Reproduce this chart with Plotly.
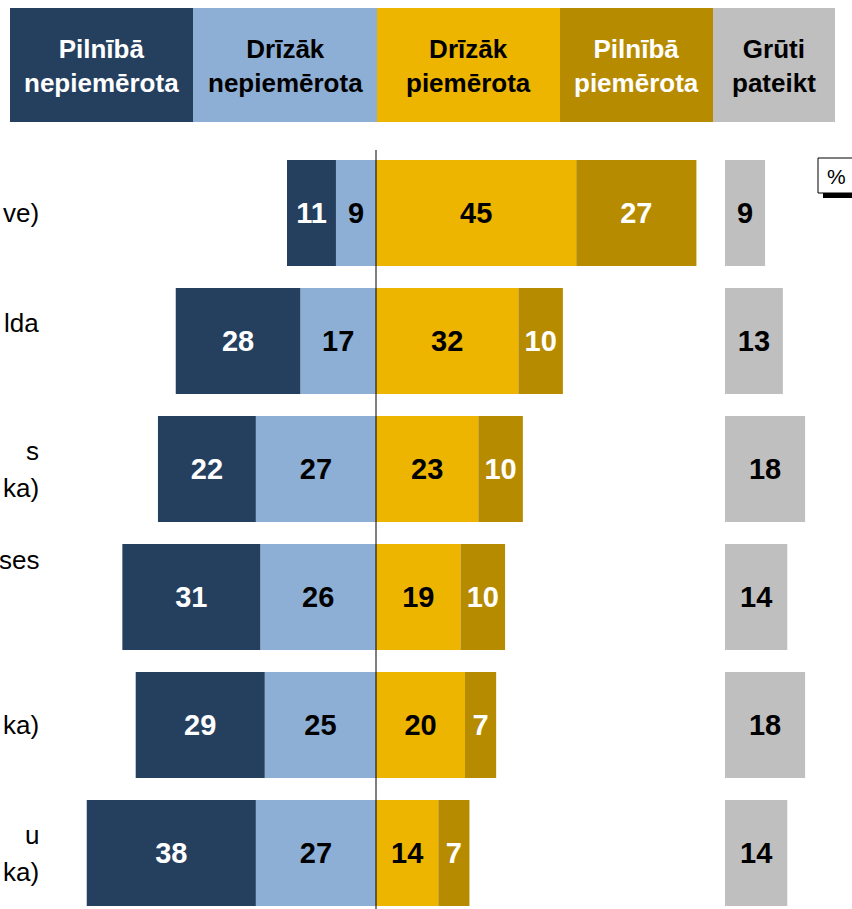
import plotly.graph_objects as go

# values per row (top to bottom)
pilniba_nepiem = [11, 28, 22, 31, 29, 38]
drizak_nepiem = [9, 17, 27, 26, 25, 27]
drizak_piem = [45, 32, 23, 19, 20, 14]
pilniba_piem = [27, 10, 10, 10, 7, 7]
gruti = [9, 13, 18, 14, 18, 14]

# visible (cropped) fragments of the row labels, line by line
row_labels = [["ve)"], ["lda", ""], ["s", "ka)"], ["ses", "", ""], ["ka)"], ["u", "ka)"]]

header = ["Pilnībā<br>nepiemērota", "Drīzāk<br>nepiemērota", "Drīzāk<br>piemērota",
          "Pilnībā<br>piemērota", "Grūti<br>pateikt"]

C_DARK = "#253f5f"
C_LIGHT = "#8eafd5"
C_YEL = "#edb400"
C_GOLD = "#b78b00"
C_GRAY = "#bfbfbf"

W, H = 852, 909
PX = 4.45          # pixels per percent
X0 = 376           # zero line pixel
GRAY_BASE = (725 - X0) / PX

rows = list(range(len(gruti)))
FONT = "Arial, Liberation Sans, sans-serif"
VAL_SIZE = 29

fig = go.Figure()


def bar(x, base, color, tcolor):
    fig.add_trace(go.Bar(
        y=rows, x=x, base=base, orientation="h", width=0.83,
        marker=dict(color=color, line=dict(width=0)),
        text=[str(abs(v)) for v in x], textposition="inside",
        insidetextanchor="middle", textangle=0,
        textfont=dict(family=FONT, size=VAL_SIZE, color=tcolor, weight="bold"),
        constraintext="none", cliponaxis=False, showlegend=False, hoverinfo="skip"))


bar([-v for v in drizak_nepiem], [0] * 6, C_LIGHT, "black")
bar([-v for v in pilniba_nepiem], [-v for v in drizak_nepiem], C_DARK, "white")
bar(drizak_piem, [0] * 6, C_YEL, "black")
bar(pilniba_piem, drizak_piem, C_GOLD, "white")
bar(gruti, [GRAY_BASE] * 6, C_GRAY, "black")

shapes = []
annotations = []

# header boxes
edges = [10, 193, 377, 560, 713, 835]
hcolors = [C_DARK, C_LIGHT, C_YEL, C_GOLD, C_GRAY]
htext = ["white", "black", "black", "white", "black"]
for i, t in enumerate(header):
    x0, x1 = edges[i] / W, edges[i + 1] / W
    shapes.append(dict(type="rect", xref="paper", yref="paper", x0=x0, x1=x1,
                       y0=1 - 122 / H, y1=1 - 8 / H, fillcolor=hcolors[i], line=dict(width=0),
                       layer="below"))
    annotations.append(dict(xref="paper", yref="paper", x=(x0 + x1) / 2, y=1 - 66 / H,
                            text=t, showarrow=False, xanchor="center", yanchor="middle",
                            font=dict(family=FONT, size=26, color=htext[i], weight="bold")))

# zero line
shapes.append(dict(type="line", xref="x", yref="paper", x0=0, x1=0, y0=0, y1=1 - 150 / H,
                   line=dict(color="black", width=1)))

# % box with shadow
shapes.append(dict(type="rect", xref="paper", yref="paper", x0=823 / W, x1=853 / W,
                   y0=1 - 198 / H, y1=1 - 192 / H, fillcolor="black", line=dict(width=0)))
shapes.append(dict(type="rect", xref="paper", yref="paper", x0=818 / W, x1=853 / W,
                   y0=1 - 193 / H, y1=1 - 158 / H, fillcolor="white",
                   line=dict(color="black", width=1)))
annotations.append(dict(xref="paper", yref="paper", x=836 / W, y=1 - 176 / H, text="%",
                        showarrow=False, xanchor="center", yanchor="middle",
                        font=dict(family=FONT, size=21, color="black")))

# cropped row labels
LINE = 37
for r, lines in enumerate(row_labels):
    n = len(lines)
    for k, t in enumerate(lines):
        if not t:
            continue
        yoff = (k - (n - 1) / 2) * LINE
        annotations.append(dict(xref="paper", yref="y", x=41 / W, y=r + yoff / 128,
                                text=t, showarrow=False, xanchor="right", yanchor="middle",
                                font=dict(family=FONT, size=26, color="black")))

fig.update_layout(
    width=W, height=H, margin=dict(l=0, r=0, t=0, b=0),
    paper_bgcolor="white", plot_bgcolor="white", barmode="overlay",
    xaxis=dict(range=[-X0 / PX, (W - X0) / PX], visible=False, fixedrange=True),
    yaxis=dict(range=[(H - 213) / 128, -213 / 128], visible=False, fixedrange=True),
    shapes=shapes, annotations=annotations,
)

fig.write_html("out.html", config={"displayModeBar": False},
               post_script="document.body.style.margin='0';document.body.style.overflow='hidden';")
